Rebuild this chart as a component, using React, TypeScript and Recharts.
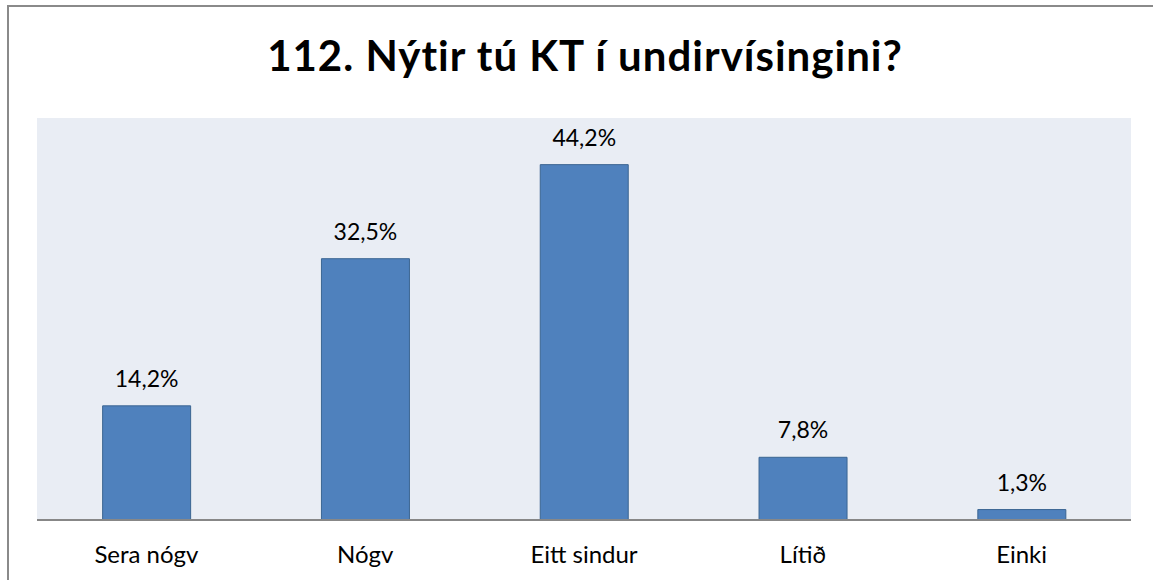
import React from "react";
import { Bar, BarChart, CartesianGrid, LabelList, XAxis, YAxis } from "recharts";

const categories = ["Sera nógv", "Nógv", "Eitt sindur", "Lítið", "Einki"];
const shares = [14.2, 32.5, 44.2, 7.8, 1.3];

const data = categories.map((name, i) => ({ name, value: shares[i] }));

const fmt = (v: number) => `${v.toFixed(1).replace(".", ",")}%`;

export default function App() {
  return (
    <div
      style={{
        position: "absolute",
        left: 0,
        top: 0,
        width: 1153,
        height: 580,
        background: "#fff",
        overflow: "hidden",
        fontFamily: "Lato, 'Open Sans', sans-serif",
      }}
    >
      {/* frame */}
      <div
        style={{
          position: "absolute",
          left: 7,
          top: 5,
          width: 1160,
          height: 600,
          borderTop: "2px solid #8a8a8a",
          borderLeft: "2px solid #8a8a8a",
        }}
      />
      <svg
        width={1153}
        height={110}
        style={{ position: "absolute", left: 0, top: 0 }}
      >
        <text
          x={585}
          y={71}
          textAnchor="middle"
          fontFamily="Lato, 'Open Sans', sans-serif"
          fontWeight={700}
          fontSize={42}
          letterSpacing={1}
          fill="#000"
        >
          112. Nýtir tú KT í undirvísingini?
        </text>
      </svg>
      <div style={{ position: "absolute", left: 0, top: 0 }}>
        <BarChart
          width={1153}
          height={580}
          data={data}
          margin={{ top: 118, right: 22, left: 37, bottom: 0 }}
          barCategoryGap="30%"
        >
          <CartesianGrid horizontal={false} vertical={false} fill="#E9EDF4" stroke="none" />
          <XAxis
            dataKey="name"
            height={60}
            tickLine={false}
            tickSize={0}
            tickMargin={26}
            axisLine={{ stroke: "#878787", strokeWidth: 2 }}
            tick={{ fill: "#000", fontSize: 24 }}
          />
          <YAxis hide domain={[0, 50]} />
          <Bar
            dataKey="value"
            fill="#4F81BD"
            stroke="#3B6592"
            strokeWidth={1}
            isAnimationActive={false}
          >
            <LabelList
              dataKey="value"
              position="top"
              offset={19}
              formatter={(v: any) => fmt(Number(v))}
              style={{ fill: "#000", fontSize: 23 }}
            />
          </Bar>
        </BarChart>
      </div>
    </div>
  );
}
